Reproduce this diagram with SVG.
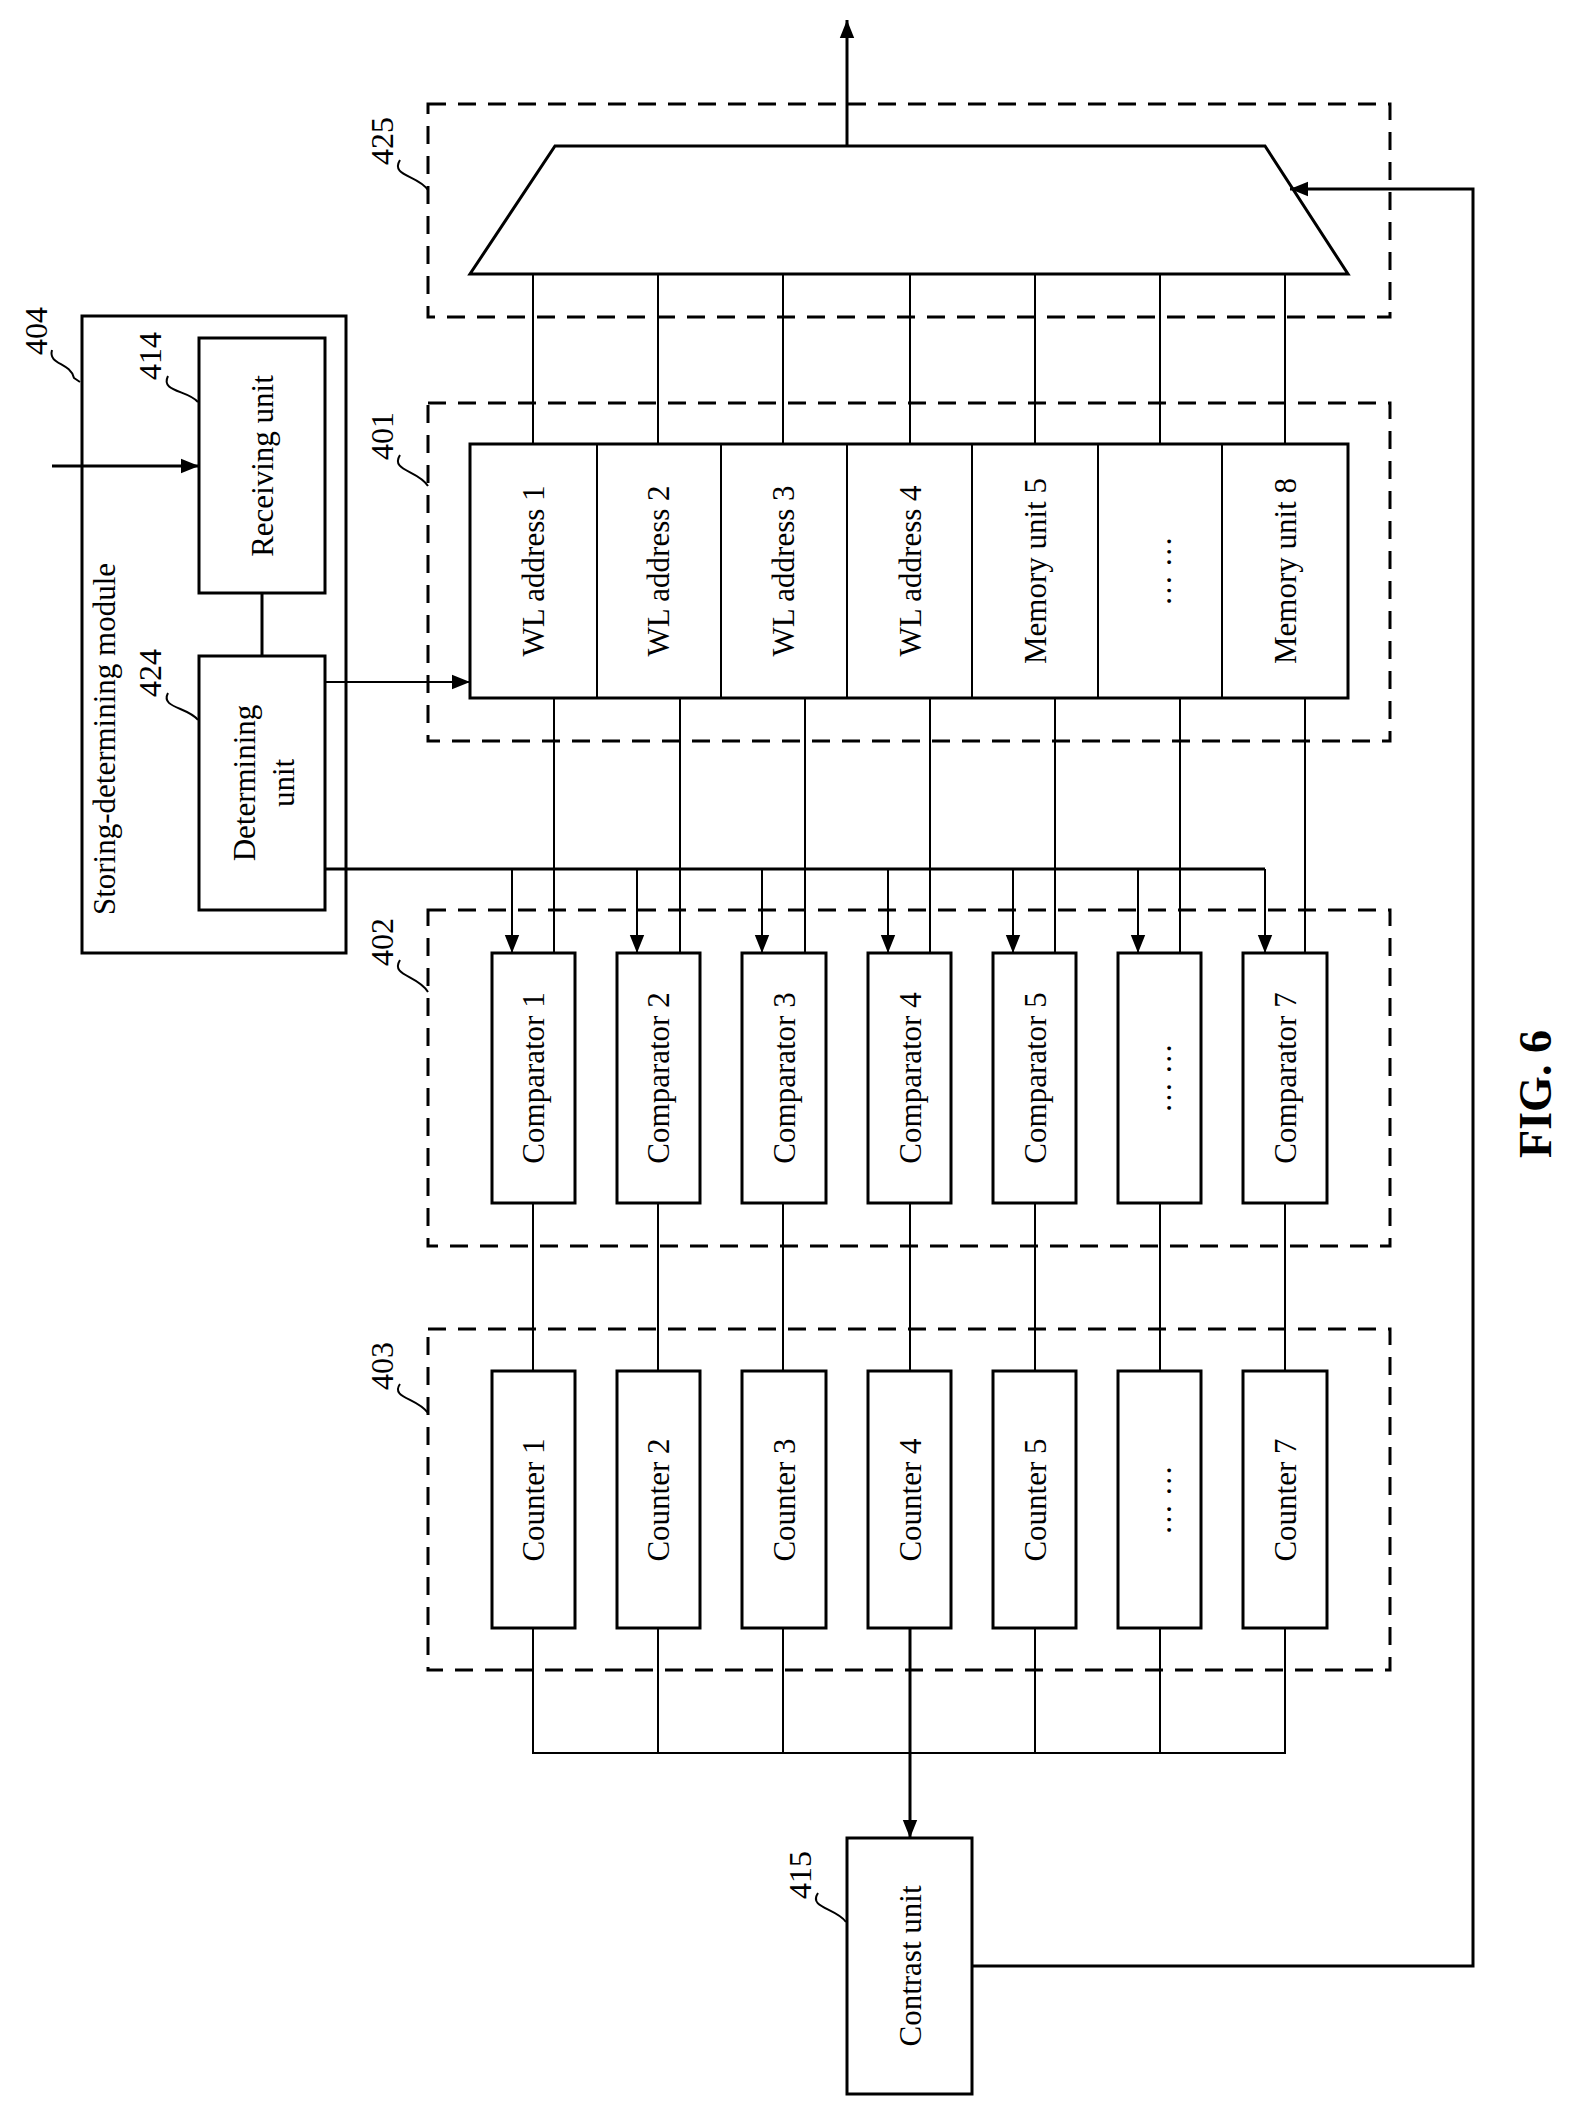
<svg xmlns="http://www.w3.org/2000/svg" width="1574" height="2110" viewBox="0 0 1574 2110">
<defs>
<marker id="ahb" viewBox="0 0 10 10" refX="10" refY="5" markerWidth="18" markerHeight="18" markerUnits="userSpaceOnUse" orient="auto"><path d="M0,1 L10,5 L0,9 z" fill="#000"/></marker>
<style>
.b{fill:#fff;stroke:#000;stroke-width:3}
.d{fill:none;stroke:#000;stroke-width:3;stroke-dasharray:18,12}
.l{fill:none;stroke:#000;stroke-width:2}
.w{fill:none;stroke:#000;stroke-width:3}
text{font-family:"Liberation Serif",serif;font-size:31px;fill:#000;text-anchor:middle;dominant-baseline:central}
.lab{font-size:32px}
</style>
</defs>
<rect width="1574" height="2110" fill="#fff"/>
<g id="g425"><rect class="d" x="428" y="104" width="962" height="213"/><path class="b" d="M555,146 L1265,146 L1348,274 L470,274 Z"/></g>
<g id="g401"><rect class="d" x="428" y="403" width="962" height="338"/>
<rect class="b" x="470" y="444" width="878" height="254"/>
<path class="l" d="M597,444V698M721,444V698M847,444V698M972,444V698M1098,444V698M1222,444V698"/>
<text transform="translate(533,571) rotate(-90)">WL address 1</text>
<text transform="translate(658,571) rotate(-90)">WL address 2</text>
<text transform="translate(783,571) rotate(-90)">WL address 3</text>
<text transform="translate(910,571) rotate(-90)">WL address 4</text>
<text transform="translate(1035,571) rotate(-90)">Memory unit 5</text>
<text transform="translate(1160,571) rotate(-90)">… …</text>
<text transform="translate(1285,571) rotate(-90)">Memory unit 8</text>
</g>
<g id="g404"><rect class="b" x="82" y="316" width="264" height="637"/>
<text transform="translate(104,739) rotate(-90)">Storing-determining module</text>
<g id="g414"><rect class="b" x="199" y="338" width="126" height="255"/><text transform="translate(262,466) rotate(-90)">Receiving unit</text></g>
<g id="g424"><rect class="b" x="199" y="656" width="126" height="254"/><text transform="translate(244,783) rotate(-90)">Determining</text><text transform="translate(283,783) rotate(-90)">unit</text></g>
</g>
<g id="g402"><rect class="d" x="428" y="910" width="962" height="336"/>
<rect class="b" x="492" y="953" width="83" height="250"/><rect class="b" x="617" y="953" width="83" height="250"/><rect class="b" x="742" y="953" width="84" height="250"/><rect class="b" x="868" y="953" width="83" height="250"/><rect class="b" x="993" y="953" width="83" height="250"/><rect class="b" x="1118" y="953" width="83" height="250"/><rect class="b" x="1243" y="953" width="84" height="250"/>
<text transform="translate(533,1078) rotate(-90)">Comparator 1</text>
<text transform="translate(658,1078) rotate(-90)">Comparator 2</text>
<text transform="translate(784,1078) rotate(-90)">Comparator 3</text>
<text transform="translate(910,1078) rotate(-90)">Comparator 4</text>
<text transform="translate(1035,1078) rotate(-90)">Comparator 5</text>
<text transform="translate(1160,1078) rotate(-90)">… …</text>
<text transform="translate(1285,1078) rotate(-90)">Comparator 7</text>
</g>
<g id="g403"><rect class="d" x="428" y="1329" width="962" height="341"/>
<rect class="b" x="492" y="1371" width="83" height="257"/><rect class="b" x="617" y="1371" width="83" height="257"/><rect class="b" x="742" y="1371" width="84" height="257"/><rect class="b" x="868" y="1371" width="83" height="257"/><rect class="b" x="993" y="1371" width="83" height="257"/><rect class="b" x="1118" y="1371" width="83" height="257"/><rect class="b" x="1243" y="1371" width="84" height="257"/>
<text transform="translate(533,1500) rotate(-90)">Counter 1</text>
<text transform="translate(658,1500) rotate(-90)">Counter 2</text>
<text transform="translate(784,1500) rotate(-90)">Counter 3</text>
<text transform="translate(910,1500) rotate(-90)">Counter 4</text>
<text transform="translate(1035,1500) rotate(-90)">Counter 5</text>
<text transform="translate(1160,1500) rotate(-90)">… …</text>
<text transform="translate(1285,1500) rotate(-90)">Counter 7</text>
</g>
<g id="g415"><rect class="b" x="847" y="1838" width="125" height="256"/><text transform="translate(910,1966) rotate(-90)">Contrast unit</text></g>
<g id="labels">
<text class="lab" transform="translate(36,331) rotate(-90)">404</text><path class="l" d="M52,350 C48,365 70,362 74,378 L80,382"/>
<text class="lab" transform="translate(150,356) rotate(-90)">414</text><path class="l" d="M168,376 C160,392 188,390 198,402"/>
<text class="lab" transform="translate(150,673) rotate(-90)">424</text><path class="l" d="M168,693 C160,708 188,707 198,720"/>
<text class="lab" transform="translate(382,141) rotate(-90)">425</text><path class="l" d="M400,160 C390,176 418,175 428,190"/>
<text class="lab" transform="translate(382,436) rotate(-90)">401</text><path class="l" d="M400,455 C390,471 418,470 428,486"/>
<text class="lab" transform="translate(382,942) rotate(-90)">402</text><path class="l" d="M400,960 C390,976 418,975 428,992"/>
<text class="lab" transform="translate(382,1366) rotate(-90)">403</text><path class="l" d="M400,1384 C390,1398 418,1398 428,1413"/>
<text class="lab" transform="translate(800,1875) rotate(-90)">415</text><path class="l" d="M818,1893 C808,1908 836,1908 846,1922"/>
<text transform="translate(1535,1094) rotate(-90)" style="font-size:46px;font-weight:bold">FIG. 6</text>
</g>
<g id="connectors">
<path class="w" d="M847,146V20" marker-end="url(#ahb)"/>
<path class="l" d="M533,274V444M658,274V444M783,274V444M910,274V444M1035,274V444M1160,274V444M1285,274V444"/>
<path class="w" d="M52,466H199" marker-end="url(#ahb)"/>
<path class="w" d="M262,593V656"/>
<path class="l" d="M325,682H470" marker-end="url(#ahb)"/>
<path class="w" d="M325,869H1265"/>
<path class="l" d="M512,869V953" marker-end="url(#ahb)"/><path class="l" d="M637,869V953" marker-end="url(#ahb)"/><path class="l" d="M762,869V953" marker-end="url(#ahb)"/><path class="l" d="M888,869V953" marker-end="url(#ahb)"/><path class="l" d="M1013,869V953" marker-end="url(#ahb)"/><path class="l" d="M1138,869V953" marker-end="url(#ahb)"/><path class="l" d="M1265,869V953" marker-end="url(#ahb)"/>
<path class="l" d="M554,698V953M680,698V953M805,698V953M930,698V953M1055,698V953M1180,698V953M1305,698V953"/>
<path class="l" d="M533,1203V1371M658,1203V1371M783,1203V1371M910,1203V1371M1035,1203V1371M1160,1203V1371M1285,1203V1371"/>
<path class="l" d="M533,1628V1753H1285V1628M658,1628V1753M783,1628V1753M1035,1628V1753M1160,1628V1753"/>
<path class="w" d="M910,1628V1838" marker-end="url(#ahb)"/>
<path class="w" d="M972,1966H1473V189H1290" marker-end="url(#ahb)"/>
</g>
</svg>
